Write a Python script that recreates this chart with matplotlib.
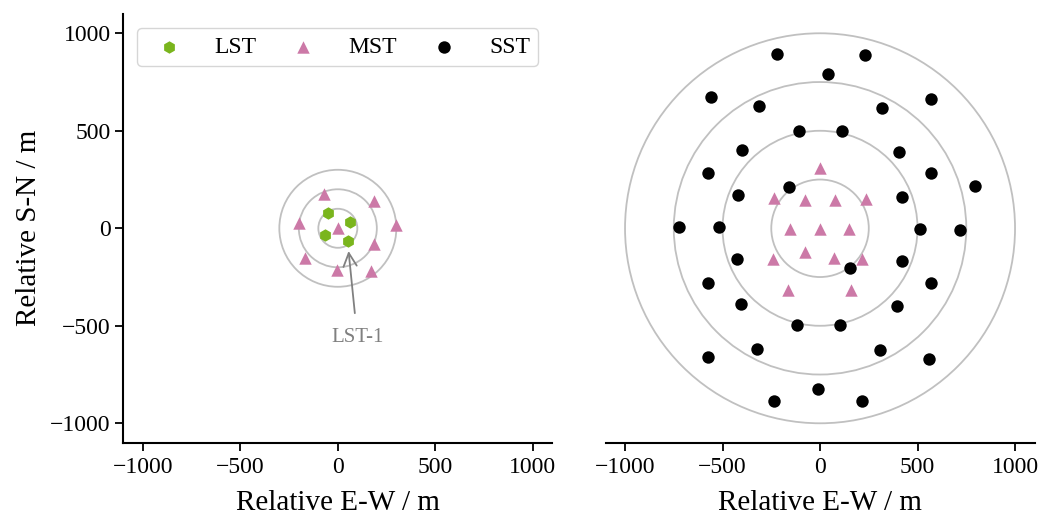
"""Array layout: core layout (left) and the extended SST ring layout (right)."""

import matplotlib

matplotlib.use("Agg")
import matplotlib.pyplot as plt
from matplotlib.patches import Circle

# core layout, positions in m relative to array centre
lst_x = [50, -52, 64, -65]
lst_y = [-67, 79, 33, -33]
mst_core_x = [-72, 188, -200, 0, 297, 188, -168, -6, 168]
mst_core_y = [177, 139, 27, 0, 19, -79, -153, -213, -218]
core_radii = [100, 200, 300]

# extended layout
mst_x = [0, -238, -75, 75, 238, -153, 0, 150, -78, -241, 73, 213, -165, 158]
mst_y = [309, 155, 146, 146, 151, -3, -3, -3, -124, -155, -151, -158, -318, -318]
sst_x = [-219, 233, 41, -561, -313, 320, 571, -107, 114, -400, 405, -573, 571,
         793, -158, -422, 422, -721, -519, 515, 719, -425, 418, 155, -573, 571,
         -406, 396, -116, 102, -325, 310, -573, 558, -10, -236, 216]
sst_y = [892, 887, 790, 672, 625, 619, 661, 498, 498, 399, 390, 282, 282,
         216, 210, 170, 162, 9, 5, -5, -7, -160, -167, -206, -282, -282,
         -390, -399, -495, -495, -617, -624, -660, -670, -823, -885, -888]
ring_radii = [250, 500, 750, 1000]

GREEN = "#7ab51d"
PINK = "#cc79a7"
RING = "#c0c0c0"
LIM = 1100

plt.rcParams["font.family"] = ["Liberation Serif", "DejaVu Serif"]
plt.rcParams["axes.linewidth"] = 1.5
plt.rcParams["xtick.major.width"] = 1.3
plt.rcParams["ytick.major.width"] = 1.3
plt.rcParams["xtick.major.size"] = 5.5
plt.rcParams["ytick.major.size"] = 5.5
plt.rcParams["xtick.major.pad"] = 4.5
plt.rcParams["xtick.labelsize"] = 17
plt.rcParams["ytick.labelsize"] = 17

fig = plt.figure(figsize=(10.39, 5.18), dpi=100)
ax1 = fig.add_axes([0.1187, 0.1452, 0.4129, 0.8282])
ax2 = fig.add_axes([0.5828, 0.1452, 0.4129, 0.8282], sharey=ax1)

for r in core_radii:
    ax1.add_patch(Circle((0, 0), r, fill=False, ec=RING, lw=1.3, zorder=1))
for r in ring_radii:
    ax2.add_patch(Circle((0, 0), r, fill=False, ec=RING, lw=1.3, zorder=1))

ms = 80
ax1.scatter(lst_x, lst_y, marker="h", s=ms, color=GREEN, lw=0, zorder=3, label="LST")
ax1.scatter(mst_core_x, mst_core_y, marker="^", s=ms, color=PINK, lw=0, zorder=3,
            label="MST")
ax1.scatter([], [], marker="o", s=ms, color="black", lw=0, label="SST")

ax2.scatter(mst_x, mst_y, marker="^", s=ms, color=PINK, lw=0, zorder=3)
ax2.scatter(sst_x, sst_y, marker="o", s=ms, color="black", lw=0, zorder=4)

ax1.annotate("LST-1", xy=(lst_x[0], lst_y[0]), xytext=(100, -562),
             ha="center", va="center", fontsize=15, color="gray",
             arrowprops=dict(arrowstyle="->", color="gray", lw=1.3,
                             mutation_scale=24, shrinkA=9, shrinkB=7))

for ax in (ax1, ax2):
    ax.set_xlim(-LIM, LIM)
    ax.set_ylim(-LIM, LIM)
    ax.set_aspect("equal")
    ax.set_xticks([-1000, -500, 0, 500, 1000])
    ax.spines[["top", "right"]].set_visible(False)
    ax.set_xlabel("Relative E-W / m", fontsize=21, labelpad=9)

ax1.set_yticks([-1000, -500, 0, 500, 1000])
ax1.set_ylabel("Relative S-N / m", fontsize=21, labelpad=6)
ax2.spines["left"].set_visible(False)
ax2.tick_params(axis="y", left=False, labelleft=False)

ax1.legend(loc="upper left", ncol=3, mode="expand", bbox_to_anchor=(0, 1, 1, 0),
           borderaxespad=0.6, fontsize=17, handletextpad=0.9, borderpad=0.35)

fig.savefig("out.png", dpi=100)
